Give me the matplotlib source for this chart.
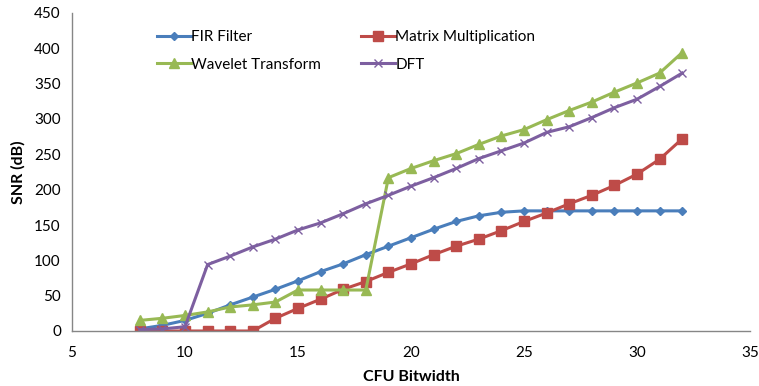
import matplotlib
matplotlib.use("Agg")
import matplotlib.pyplot as plt

plt.rcParams['font.family'] = ['Lato', 'DejaVu Sans']

### Data
bitwidth = list(range(8, 33))
fir = [3, 8, 15, 25, 37, 48, 59, 71, 84, 95, 108, 120, 132, 144, 155, 163, 168,
       170, 170, 170, 170, 170, 170, 170, 170]
matrix = [0, 0, 0, 0, 0, 0, 18, 32, 45, 59, 70, 83, 95, 108, 120, 130, 142,
          155, 167, 180, 192, 206, 222, 243, 272]
wavelet = [15, 18, 22, 27, 34, 37, 41, 58, 58, 58, 58, 217, 230, 241, 251, 264,
           276, 285, 299, 312, 324, 338, 351, 365, 394]
dft = [2, 3, 6, 94, 106, 119, 130, 143, 153, 166, 180, 192, 205, 217, 230, 244,
       255, 266, 281, 289, 302, 316, 328, 346, 365]

x_ticks = [5, 10, 15, 20, 25, 30, 35]
y_ticks = [0, 50, 100, 150, 200, 250, 300, 350, 400, 450]

### Plot
fig = plt.figure(figsize=(7.59, 3.86), dpi=100)
ax = fig.add_axes([72 / 759, 1 - 331 / 386, 678 / 759, 318 / 386])

l1, = ax.plot(bitwidth, fir, color='#4a7ebb', marker='D', markersize=4.5, lw=2.2, label='FIR Filter')
l2, = ax.plot(bitwidth, matrix, color='#be4b48', marker='s', markersize=6.5, lw=2.2, label='Matrix Multiplication')
l3, = ax.plot(bitwidth, wavelet, color='#98b954', marker='^', markersize=7, lw=2.2, label='Wavelet Transform')
l4, = ax.plot(bitwidth, dft, color='#7d5fa0', marker='x', markersize=6, mew=1, lw=2.2, label='DFT')

ax.set_xlim(5, 35)
ax.set_ylim(0, 450)
ax.set_xticks(x_ticks)
ax.set_yticks(y_ticks)
ax.tick_params(length=0, labelsize=11, pad=8)
ax.tick_params(axis='x', pad=11)
for s in ['top', 'right']:
    ax.spines[s].set_visible(False)
for s in ['left', 'bottom']:
    ax.spines[s].set_color('#868686')
    ax.spines[s].set_linewidth(1)

ax.set_xlabel('CFU Bitwidth', fontsize=11.5, fontweight='bold', labelpad=7)
ax.set_ylabel('SNR (dB)', fontsize=11.5, fontweight='bold', labelpad=6)

# legend filled row by row like the original
ax.legend([l1, l3, l2, l4], [l1.get_label(), l3.get_label(), l2.get_label(), l4.get_label()],
          ncol=2, frameon=False, loc='upper left', bbox_to_anchor=(0.105, 0.99),
          fontsize=11, handlelength=2.2, handletextpad=0.05, columnspacing=2.6,
          labelspacing=0.9)

fig.savefig('out.png', dpi=100)
